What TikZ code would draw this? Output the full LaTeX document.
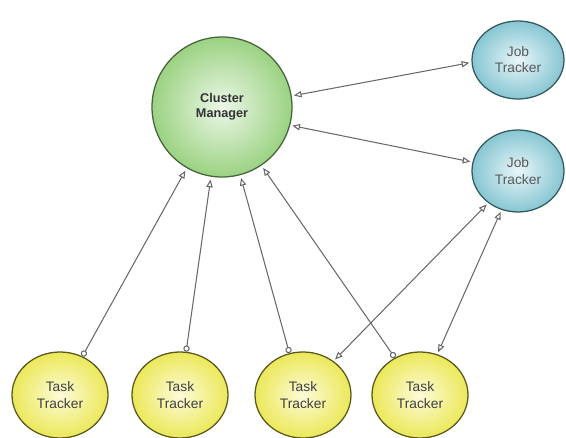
\documentclass[tikz,border=0pt]{standalone}
\usepackage{fontspec}
\setmainfont{Liberation Sans}
\usepackage{tikz}
\usetikzlibrary{positioning,arrows.meta,shapes.geometric}

\begin{document}
\begin{tikzpicture}[draw=black!100]
	\definecolor{linecolor}{RGB}{105,105,105}
	\definecolor{cmfill}{RGB}{155,210,130}
	\definecolor{cmcore}{RGB}{236,247,232}
	\definecolor{cmborder}{RGB}{70,100,60}
	\definecolor{jtfill}{RGB}{135,198,210}
	\definecolor{jtcore}{RGB}{232,246,249}
	\definecolor{jtborder}{RGB}{50,90,96}
	\definecolor{ttfill}{RGB}{236,232,90}
	\definecolor{ttcore}{RGB}{252,251,216}
	\definecolor{ttborder}{RGB}{90,90,30}
	\tikzstyle{manager}=[circle, minimum size=3.5cm, draw=cmborder, line width=0.9pt, inner color=cmcore, outer color=cmfill, text=black!80, font=\fontsize{9}{11}\selectfont\bfseries, align=center]
	\tikzstyle{job}=[ellipse, minimum width=2.3cm, minimum height=1.95cm, inner sep=0pt, draw=jtborder, line width=0.9pt, inner color=jtcore, outer color=jtfill, text=black!65, font=\fontsize{9.8}{11.5}\selectfont, align=center]
	\tikzstyle{task}=[ellipse, minimum width=2.4cm, minimum height=2.15cm, inner sep=0pt, draw=ttborder, line width=0.9pt, inner color=ttcore, outer color=ttfill, text=black!75, font=\fontsize{9.8}{11.5}\selectfont, align=center]
	\tikzstyle{link}=[draw=linecolor, line width=0.75pt, {Triangle[open,length=5.5pt,width=4.5pt]}-{Triangle[open,length=5.5pt,width=4.5pt]}, shorten <=1.5pt, shorten >=1.5pt]
	\tikzstyle{report}=[draw=linecolor, line width=0.75pt, {Circle[open,length=4.5pt]}-{Triangle[open,length=5.5pt,width=4.5pt]}, shorten >=2pt]
	\useasboundingbox (0,0) rectangle (14.15,10.95);
	
	% Draw the cluster manager
	\node[manager] (CM) at (5.55,8.275) {Cluster\\Manager};
	% Draw the job trackers
	\node[job] (J-1) at (12.95,9.45) {Job\\Tracker};
	\node[job, minimum height=2.05cm] (J-2) at (12.95,6.675) {Job\\Tracker};
	% Draw the task trackers
	\foreach \name/\x in {1/1.5,2/4.5,3/7.575,4/10.5}
	\node[task] (T-\name) at (\x,1.075) {Task\\Tracker};
	
	% Connect every task tracker with the cluster manager
	\foreach \name/\from/\to in {1/60/240,2/82/261,3/108/285,4/124/304}
	 \path[report] (T-\name.\from) -- (CM.\to);
	% Connect the cluster manager with the job trackers
	\path[link] (CM.9) -- (J-1.183);
	\path[link] (CM.345) -- (J-2.169);
	% Connect the second job tracker with two task trackers
	\path[link] (T-3.48) -- (J-2.227);
	\path[link] (T-4.67) -- (J-2.247);
\end{tikzpicture}
\end{document}
